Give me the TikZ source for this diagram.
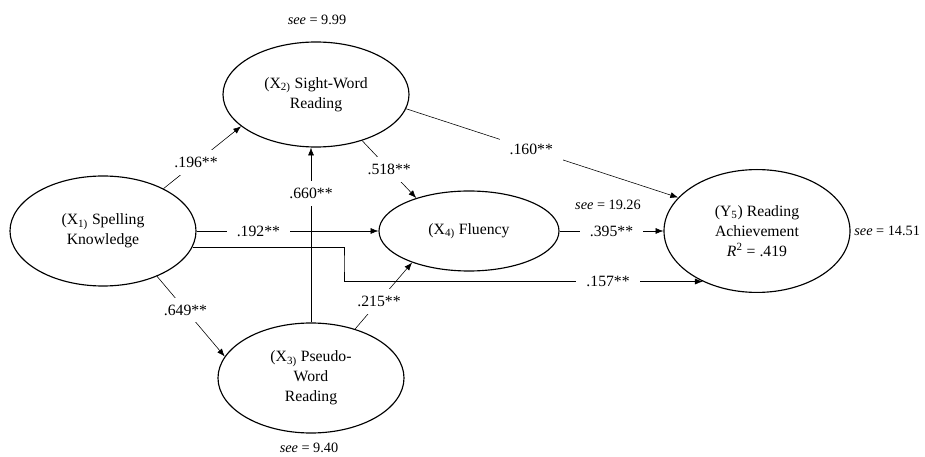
\documentclass[tikz,border=0pt]{standalone}
\usepackage{fontspec}
\setmainfont{Liberation Serif}
\usetikzlibrary{shapes.geometric,arrows.meta}

\begin{document}
\begin{tikzpicture}[x=0.7pt,y=-0.7pt,
    var/.style={ellipse, draw, line width=0.8pt, inner sep=0pt, align=center, font=\fontsize{11}{14}\selectfont},
    coef/.style={fill=white, inner xsep=7pt, inner ysep=5pt, font=\fontsize{11}{14}\selectfont},
    errlbl/.style={font=\fontsize{10}{12}\selectfont},
    link/.style={-{Latex[length=5.5pt,width=4.2pt]}, line width=0.4pt}]
    \useasboundingbox (0,0) rectangle (925,457);
    % variables
    \node[var, minimum width=130.2pt, minimum height=77pt] (x1) at (103,231) {(X\textsubscript{1)} Spelling\\Knowledge};
    \node[var, minimum width=130.2pt, minimum height=73.5pt] (x2) at (316,94.5) {(X\textsubscript{2)} Sight-Word\\Reading};
    \node[var, minimum width=130.2pt, minimum height=77pt] (x3) at (311,378) {(X\textsubscript{3)} Pseudo-\\Word\\Reading};
    \node[var, minimum width=126pt, minimum height=56pt] (x4) at (469,231) {(X\textsubscript{4)} Fluency};
    \node[var, minimum width=130.2pt, minimum height=86pt] (y5) at (757,231) {(Y\textsubscript{5}) Reading\\Achievement\\\textit{R}\textsuperscript{2} = .419};
    % standard errors
    \node[errlbl] (e2) at (317,20) {\textit{see} = 9.99};
    \node[errlbl] (e3) at (309,448) {\textit{see} = 9.40};
    \node[errlbl] (e4) at (608,205) {\textit{see} = 19.26};
    \node[errlbl, anchor=east] (e5) at (925,231) {\textit{see} = 14.51};
    % paths
    \coordinate (elbow) at (344,263);
    \draw[link] (x1.35) -- (x2.-157) node[coef, pos=0.42] {.196**};
    \draw[link] (x1.east) -- (x4.west) node[coef, pos=0.34] {.192**};
    \draw[link] (x1.-40) -- (x3.166) node[coef, pos=0.42] {.649**};
    \draw[link] (x1.-10) -| (elbow) |- (y5.223) node[coef, pos=0.868] {.157**};
    \draw[link] (x3.north) -- (x3.north |- x2.south) node[coef, pos=0.74] {.660**};
    \draw[link] (x2.-45) -- (x4.148) node[coef, pos=0.5] {.518**};
    \draw[link] (x3.48) -- (x4.-151) node[coef, pos=0.42] {.215**};
    \draw[link] (x2.-9) -- (y5.157) node[coef, pos=0.46] {.160**};
    \draw[link] (x4.east) -- (y5.west) node[coef, pos=0.5] {.395**};
\end{tikzpicture}
\end{document}
